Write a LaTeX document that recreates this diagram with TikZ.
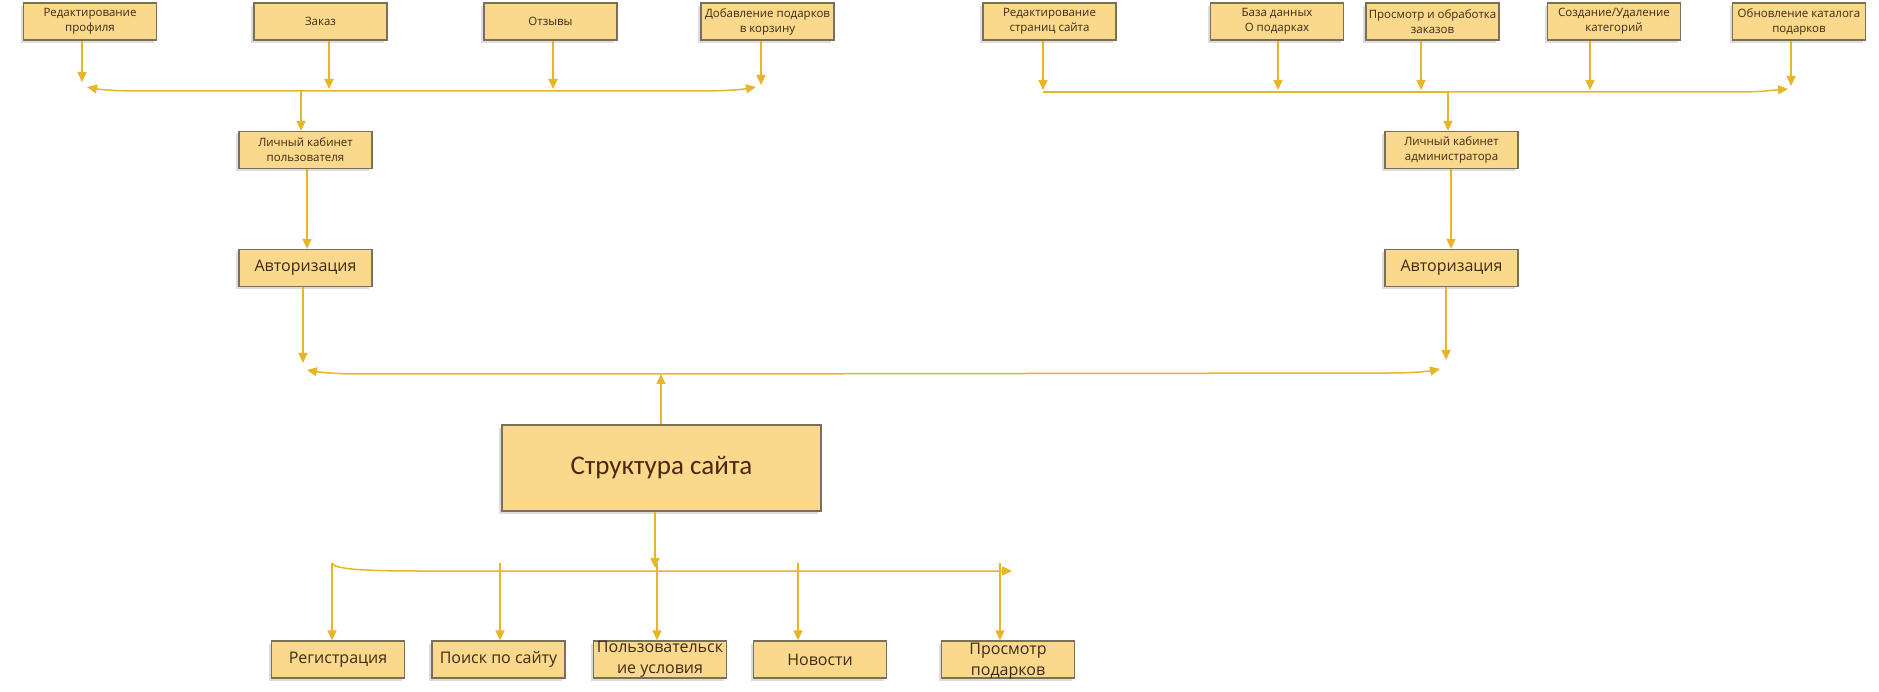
\documentclass[tikz,border=0pt]{standalone}
\usepackage{fontspec}
\setmainfont{Open Sans}
\newfontfamily\calibrifont{Carlito}
\usetikzlibrary{arrows.meta,shadows}
\definecolor{boxfill}{HTML}{FAD88C}
\definecolor{boxline}{HTML}{7A6E5E}
\definecolor{arrowgold}{HTML}{E6B628}
\definecolor{textbrown}{HTML}{3F2A14}
\definecolor{titlebrown}{HTML}{4A2810}
\tikzset{
  box/.style={draw=boxline, line width=1.3pt, fill=boxfill, minimum width=133pt,
    minimum height=37pt, inner sep=0pt, align=center, text=textbrown,
    drop shadow={shadow xshift=-3pt, shadow yshift=-3pt, opacity=0.22, fill=black!60}},
  smallbox/.style={box, font=\fontsize{11.5}{15}\selectfont},
  midbox/.style={box, font=\fontsize{16}{21}\selectfont},
  bigbox/.style={box, minimum width=319pt, minimum height=86pt, text=titlebrown,
    font=\calibrifont\fontsize{27}{33}\selectfont},
  link/.style={draw=arrowgold, line width=1.5pt},
  arr/.style={link, -{Triangle[length=10pt,width=9pt]}},
}
\begin{document}
\begin{tikzpicture}[x=1pt,y=-1pt]
    \fill[white] (0,0) rectangle (1879,692);
    \useasboundingbox (0,0) rectangle (1879,692);

    \node[smallbox] (prof) at (90,21.5) {Редактирование\\профиля};
    \node[smallbox] (zakaz) at (320.5,21.5) {Заказ};
    \node[smallbox] (otz) at (550.5,21.5) {Отзывы};
    \node[smallbox] (korz) at (767.5,21.5) {Добавление подарков\\в корзину};
    \node[smallbox] (stran) at (1049.5,21.5) {Редактирование\\страниц сайта};
    \node[smallbox] (baza) at (1277,21.5) {База данных\\О подарках};
    \node[smallbox] (zakazy) at (1432.5,21.5) {Просмотр и обработка\\заказов};
    \node[smallbox] (kateg) at (1614,21.5) {Создание/Удаление\\категорий};
    \node[smallbox] (katalog) at (1799,21.5) {Обновление каталога\\подарков};

    \node[smallbox] (lkuser) at (305.5,150) {Личный кабинет\\пользователя};
    \node[midbox] (authL) at (305.5,268) {Авторизация};
    \node[smallbox] (lkadmin) at (1451.5,150) {Личный кабинет\\администратора};
    \node[midbox] (authR) at (1451.5,268) {Авторизация};

    \node[bigbox] (site) at (661.5,468) {Структура сайта};

    \node[midbox] (reg) at (338,659.5) {Регистрация};
    \node[midbox] (poisk) at (498.5,659.5) {Поиск по сайту};
    \node[midbox, label={[align=center, text=textbrown, font=\fontsize{16}{21}\selectfont]center:Пользовательск\\ие условия}] (usl) at (660,659.5) {};
    \node[midbox] (news) at (820,659.5) {Новости};
    \node[midbox, label={[align=center, text=textbrown, font=\fontsize{16}{21}\selectfont, yshift=-2pt]center:Просмотр\\подарков}] (gifts) at (1008,659.5) {};

    \coordinate (a1) at (82,82);
    \coordinate (a2) at (329,89);
    \coordinate (a3) at (553,89);
    \coordinate (a4) at (761,85);
    \coordinate (hubL) at (301,91);
    \coordinate (endL1) at (87,87);
    \coordinate (endL2) at (756,87);
    \draw[arr] (prof.south -| a1) -- (a1);
    \draw[arr] (zakaz.south -| a2) -- (a2);
    \draw[arr] (otz.south -| a3) -- (a3);
    \draw[arr] (korz.south -| a4) -- (a4);
    \draw[arr] (hubL) -- (140,91) .. controls (110,91) and (97,89) .. (endL1);
    \draw[arr] (hubL) -- (700,91) .. controls (730,91) and (745,89) .. (endL2);
    \draw[arr] (hubL) -- (hubL |- lkuser.north);
    \draw[arr] ([xshift=1.5pt]lkuser.south) -- ([xshift=1.5pt]authL.north);

    \coordinate (b1) at (1043,90);
    \coordinate (b2) at (1278,90);
    \coordinate (b3) at (1421,90);
    \coordinate (b4) at (1590,90);
    \coordinate (b5) at (1791,86);
    \coordinate (hubR) at (1448,92);
    \coordinate (startR) at (1043,92);
    \coordinate (endR) at (1788,89);
    \draw[arr] (stran.south -| b1) -- (b1);
    \draw[arr] (baza.south -| b2) -- (b2);
    \draw[arr] (zakazy.south -| b3) -- (b3);
    \draw[arr] (kateg.south -| b4) -- (b4);
    \draw[arr] (katalog.south -| b5) -- (b5);
    \draw[link] (startR) -- (hubR);
    \draw[arr] (hubR) -- (1740,92) .. controls (1760,92) and (1775,90) .. (endR);
    \draw[arr] (hubR) -- (hubR |- lkadmin.north);
    \draw[arr] ([xshift=-0.5pt]lkadmin.south) -- ([xshift=-0.5pt]authR.north);

    \coordinate (m1) at (303,363);
    \coordinate (m2) at (1446,360);
    \coordinate (hubM) at (661,374);
    \coordinate (endM1) at (307,370);
    \coordinate (endM2) at (1440,369);
    \draw[arr] (authL.south -| m1) -- (m1);
    \draw[arr] (authR.south -| m2) -- (m2);
    \draw[arr] (hubM) -- (360,374) .. controls (335,374) and (318,372) .. (endM1);
    \draw[arr] (hubM) -- (1390,373) .. controls (1415,373) and (1430,371) .. (endM2);
    \draw[arr] (site.north -| hubM) -- (hubM);

    \coordinate (hubB) at (655,568);
    \coordinate (bstart) at (332,563);
    \coordinate (endB) at (1012,571);
    \draw[arr] (site.south -| hubB) -- (hubB);
    \draw[arr] (bstart) .. controls (334,569) and (360,571) .. (420,571) -- (endB);
    \coordinate (c1) at (332,563);
    \coordinate (c2) at (500,563);
    \coordinate (c3) at (657,563);
    \coordinate (c4) at (798,563);
    \coordinate (c5) at (1000,563);
    \draw[arr] (c1) -- (c1 |- reg.north);
    \draw[arr] (c2) -- (c2 |- poisk.north);
    \draw[arr] (c3) -- (c3 |- usl.north);
    \draw[arr] (c4) -- (c4 |- news.north);
    \draw[arr] (c5) -- (c5 |- gifts.north);
\end{tikzpicture}
\end{document}
